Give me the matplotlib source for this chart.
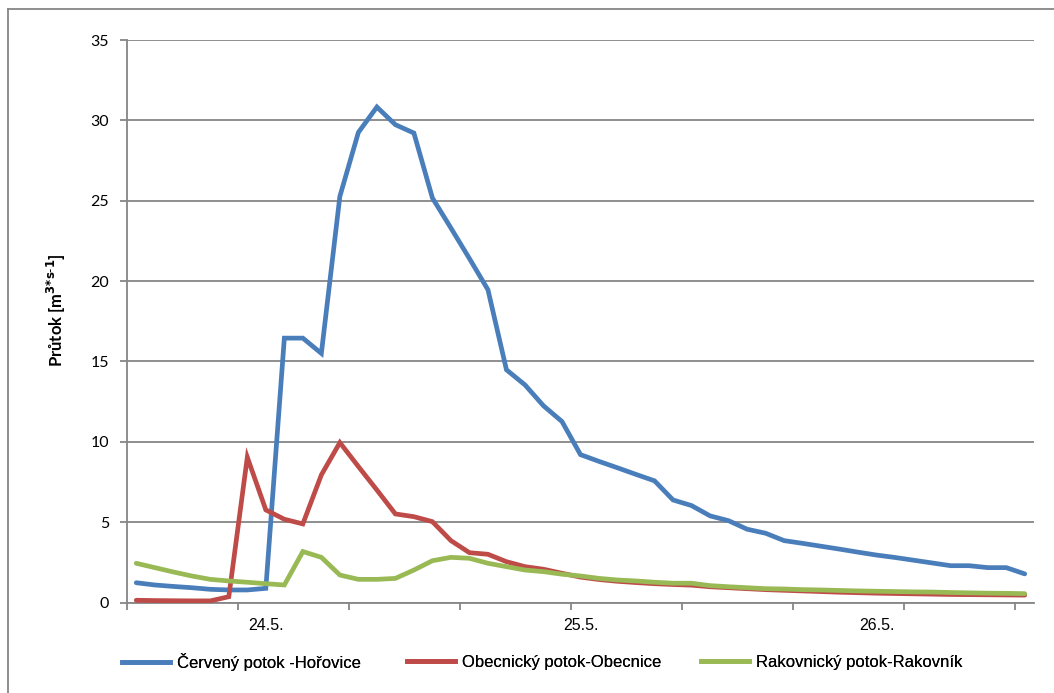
import matplotlib
matplotlib.use("Agg")
import matplotlib.pyplot as plt
from matplotlib.lines import Line2D
import numpy as np

# === Data: průtoky (m3/s), stejné časové kroky pro všechny stanice ===
hořovice = [1.23, 1.09, 1.00, 0.92, 0.82, 0.78, 0.78, 0.88, 16.45, 16.45,
            15.50, 25.27, 29.25, 30.83, 29.73, 29.21, 25.17, 23.3, 21.4, 19.46,
            14.48, 13.54, 12.24, 11.26, 9.20, 8.78, 8.38, 7.97, 7.57, 6.38,
            6.03, 5.39, 5.09, 4.56, 4.31, 3.85, 3.68, 3.50, 3.32, 3.13,
            2.95, 2.80, 2.63, 2.46, 2.29, 2.29, 2.17, 2.17, 1.78]
obecnice = [0.14, 0.12, 0.11, 0.10, 0.10, 0.36, 9.04, 5.76, 5.18, 4.89,
            7.94, 9.95, 8.46, 7.00, 5.51, 5.34, 5.03, 3.85, 3.10, 3.00,
            2.54, 2.23, 2.07, 1.82, 1.58, 1.43, 1.32, 1.24, 1.17, 1.12,
            1.08, 0.98, 0.92, 0.86, 0.80, 0.76, 0.72, 0.68, 0.64, 0.61,
            0.58, 0.56, 0.54, 0.52, 0.50, 0.49, 0.48, 0.47, 0.46]
rakovnik = [2.44, 2.17, 1.90, 1.65, 1.44, 1.34, 1.26, 1.17, 1.09, 3.17,
            2.81, 1.71, 1.44, 1.44, 1.50, 2.02, 2.60, 2.81, 2.75, 2.44,
            2.23, 2.02, 1.92, 1.76, 1.65, 1.50, 1.40, 1.34, 1.26, 1.20,
            1.20, 1.05, 0.98, 0.92, 0.86, 0.84, 0.80, 0.78, 0.75, 0.72,
            0.70, 0.68, 0.66, 0.65, 0.62, 0.60, 0.58, 0.57, 0.55]

series_names = ["Červený potok -Hořovice", "Obecnický potok-Obecnice",
                "Rakovnický potok-Rakovník"]
colors = ["#4A7EBB", "#BE4B48", "#98B954"]

day_labels = ["24.5.", "25.5.", "26.5."]
day_positions = [7, 24, 40]

GRID = "#868686"
FONT = ["Liberation Sans Narrow", "Liberation Sans", "DejaVu Sans"]
plt.rcParams["font.family"] = FONT

W, H = 1054, 693

# === Figure ===
fig = plt.figure(figsize=(W / 100, H / 100), dpi=100)
ax = fig.add_axes([127 / W, 1 - 602.5 / H, (1034 - 127) / W, (602.5 - 40) / H])

x = np.arange(len(hořovice))
for vals, name, c in zip([hořovice, obecnice, rakovnik], series_names, colors):
    ax.plot(x, vals, color=c, lw=3.4, label=name, solid_joinstyle="miter",
            solid_capstyle="round", zorder=3)

ax.set_xlim(-0.5, len(x) - 0.5)
ax.set_ylim(0, 35)
ax.set_yticks(np.arange(0, 36, 5))
ax.yaxis.grid(True, color=GRID, lw=1.3)
ax.set_axisbelow(True)

for s in ["top", "right"]:
    ax.spines[s].set_visible(False)
for s in ["left", "bottom"]:
    ax.spines[s].set_color(GRID)
    ax.spines[s].set_linewidth(1.3)

ax.set_xticks(day_positions)
ax.set_xticklabels(day_labels)
ax.set_xticks(np.arange(-0.5, len(x) - 1, 6), minor=True)
ax.tick_params(axis="x", which="major", length=0, pad=11, labelsize=11.5)
ax.tick_params(axis="x", which="minor", length=5, width=1.3, color=GRID, direction="out")
ax.tick_params(axis="y", length=5, width=1.3, color=GRID, direction="out", pad=8,
               labelsize=11.5)
for lab in ax.get_yticklabels():
    lab.set_family(["Lato", "DejaVu Sans"])

ax.set_ylabel(r"Průtok [m$^{\mathbf{3{*}s\text{-}1}}$]", fontsize=12,
              fontweight="bold", family=["Lato", "DejaVu Sans"], labelpad=15)
ax.yaxis.set_label_coords(-0.065, 0.52)

# === Legenda pod grafem, každá položka zvlášť ===
legend_x = [122, 407, 701]
for name, c, lx in zip(series_names, colors, legend_x):
    leg = fig.legend([Line2D([0], [0], color=c, lw=3.4)], [name], loc="center left",
                     bbox_to_anchor=(lx / W, 1 - 662 / H), frameon=False, fontsize=12,
                     handlelength=2.9, handletextpad=0.4, borderpad=0, borderaxespad=0)
    fig.add_artist(leg)

# Rámeček grafu
fig.add_artist(Line2D([8 / W, 8 / W], [0, 1 - 9 / H], color=GRID, lw=1.3,
                      transform=fig.transFigure))
fig.add_artist(Line2D([8 / W, 1], [1 - 9 / H, 1 - 9 / H], color=GRID, lw=1.3,
                      transform=fig.transFigure))

fig.savefig("out.png", dpi=100)
